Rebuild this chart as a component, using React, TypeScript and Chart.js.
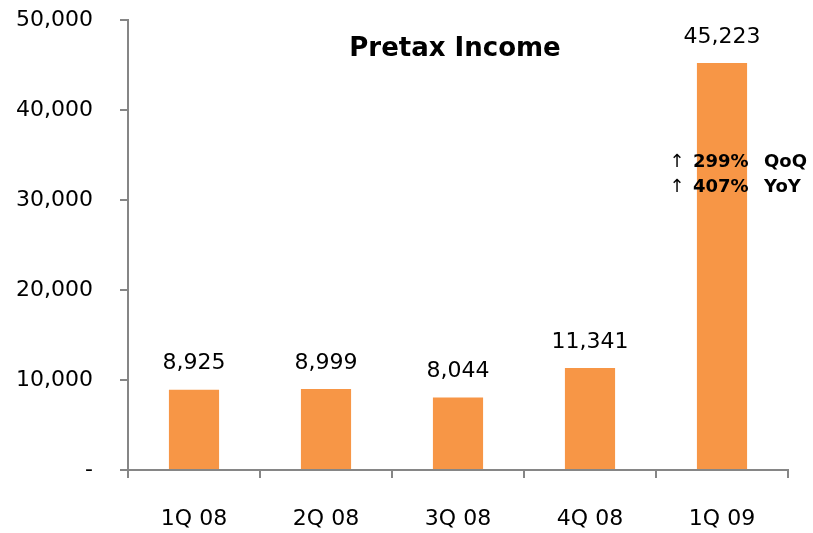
import React, { useEffect, useRef } from "react";
import { Chart, registerables } from "chart.js";

Chart.register(...registerables);

const categories = ["1Q 08", "2Q 08", "3Q 08", "4Q 08", "1Q 09"];
const pretaxIncome = [8925, 8999, 8044, 11341, 45223];
const yTicksMax = 50000;
const yTickStep = 10000;
const chartTitle = "Pretax Income";
const noteArrows = ["↑", "↑"];
const notePercents = ["299%", "407%"];
const noteLabels = ["QoQ", "YoY"];
const noteBarIndex = 4;

const FONT = "'DejaVu Sans', sans-serif";
const AXIS = "#868686";
const BAR = "#F79646";

const overlayPlugin = {
  id: "overlay",
  afterDatasetsDraw(chart: any) {
    const ctx = chart.ctx;
    const area = chart.chartArea;
    const meta = chart.getDatasetMeta(0);
    ctx.save();
    ctx.fillStyle = "#000";
    // value labels
    ctx.font = `22px ${FONT}`;
    ctx.textAlign = "center";
    ctx.textBaseline = "middle";
    meta.data.forEach((bar: any, i: number) => {
      ctx.fillText(pretaxIncome[i].toLocaleString("en-US"), bar.x, bar.y - 26);
    });
    // title
    ctx.font = `bold 26px ${FONT}`;
    ctx.fillText(chartTitle, (area.left + area.right) / 2 - 3, area.top + 29);
    // notes
    const bx = chart.scales.x.getPixelForValue(noteBarIndex);
    const ys = [area.top + 142, area.top + 167];
    for (let i = 0; i < noteArrows.length; i++) {
      ctx.font = `18px ${FONT}`;
      ctx.textAlign = "center";
      ctx.fillText(noteArrows[i], bx - 45, ys[i]);
      ctx.textAlign = "left";
      ctx.font = `bold 18px ${FONT}`;
      ctx.fillText(notePercents[i], bx - 29, ys[i]);
      ctx.fillText(noteLabels[i], bx + 42, ys[i]);
    }
    ctx.restore();
  },
};

export default function App() {
  const ref = useRef<HTMLCanvasElement | null>(null);
  useEffect(() => {
    document.body.style.margin = "0";
    const chart = new Chart(ref.current as HTMLCanvasElement, {
      type: "bar",
      data: {
        labels: categories,
        datasets: [
          {
            data: pretaxIncome,
            backgroundColor: BAR,
            borderWidth: 0,
            barPercentage: 0.38,
            categoryPercentage: 1,
          },
        ],
      },
      options: {
        animation: false,
        responsive: false,
        maintainAspectRatio: false,
        layout: { padding: { top: 20, right: 25, left: 0, bottom: 0 } },
        plugins: {
          legend: { display: false },
          title: { display: false },
          tooltip: { enabled: false },
        },
        scales: {
          x: {
            grid: {
              offset: true,
              drawOnChartArea: false,
              drawTicks: true,
              tickLength: 8,
              color: AXIS,
              lineWidth: 2,
            },
            border: { color: AXIS, width: 2 },
            ticks: {
              color: "#000",
              font: { family: FONT, size: 22 },
              padding: 28,
              maxRotation: 0,
            },
            afterFit: (s: any) => {
              s.height = 63;
            },
          },
          y: {
            min: 0,
            max: yTicksMax,
            grid: {
              drawOnChartArea: false,
              drawTicks: true,
              tickLength: 8,
              color: AXIS,
              lineWidth: 2,
            },
            border: { color: AXIS, width: 2 },
            ticks: {
              stepSize: yTickStep,
              color: "#000",
              font: { family: FONT, size: 22 },
              padding: 27,
              callback: (v: any) => (Number(v) === 0 ? "-" : Number(v).toLocaleString("en-US")),
            },
            afterFit: (s: any) => {
              s.width = 128;
              s.paddingTop = 0;
              s.paddingBottom = 0;
            },
          },
        },
      },
      plugins: [overlayPlugin],
    });
    return () => chart.destroy();
  }, []);
  return (
    <div style={{ position: "absolute", left: 0, top: 0, width: 813, height: 533, background: "#fff" }}>
      <canvas ref={ref} width={813} height={533} style={{ width: 813, height: 533 }} />
    </div>
  );
}
